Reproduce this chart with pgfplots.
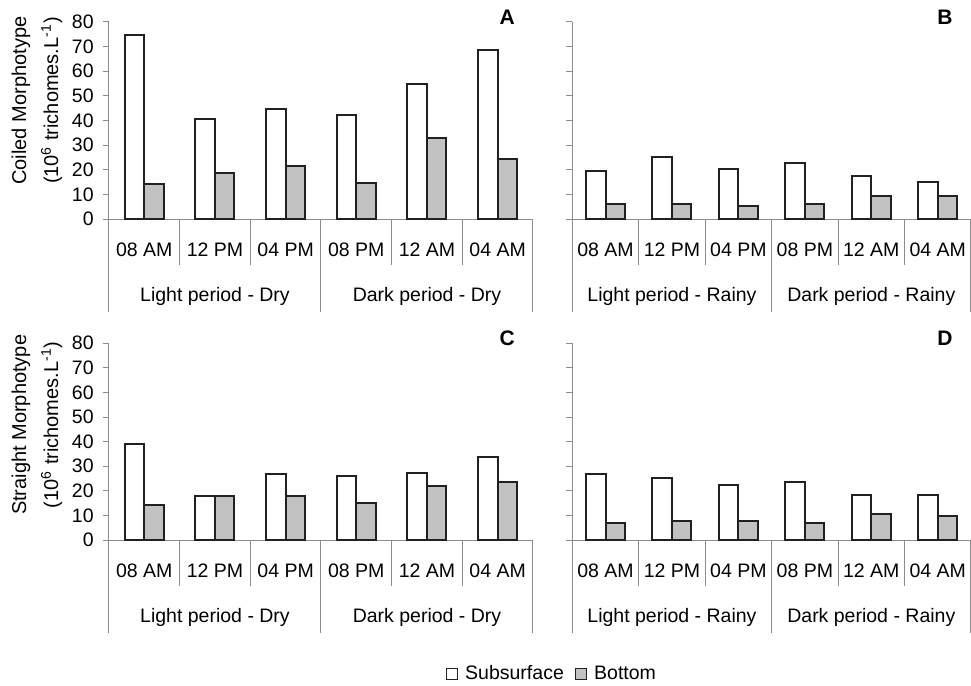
\documentclass[border=0pt]{standalone}
\usepackage{fontspec}
\setmainfont{Liberation Sans}
\usepackage{pgfplots}
\pgfplotsset{compat=1.18}
\usepackage{pgfplotstable}

\definecolor{axiscol}{gray}{0.55}
\definecolor{barline}{gray}{0.13}
\definecolor{botfill}{gray}{0.76}

\pgfplotstableread{
x sub bot
0 74.8 14.3
1 40.7 18.8
2 44.5 21.3
3 42.2 14.7
4 54.8 33.0
5 68.7 24.3
}\tabA
\pgfplotstableread{
x sub bot
0 19.6 6.2
1 25.1 6.2
2 20.4 5.4
3 22.8 6.2
4 17.4 9.5
5 14.9 9.5
}\tabB
\pgfplotstableread{
x sub bot
0 39.2 14.3
1 17.9 17.9
2 26.7 17.9
3 26.0 15.0
4 27.4 22.0
5 33.7 23.6
}\tabC
\pgfplotstableread{
x sub bot
0 26.7 7.1
1 25.2 7.9
2 22.2 7.9
3 23.6 7.1
4 18.2 10.4
5 18.2 9.6
}\tabD

\newcommand{\fs}{\fontsize{9.75}{12}\selectfont}
\newcommand{\fsb}{\fontsize{10.5}{12}\selectfont\bfseries}

\tikzset{seps/.style={draw=axiscol, line width=0.5pt}}

\pgfplotsset{
 panel/.style={
  scale only axis, anchor=south west,
  ymin=0, ymax=80, ytick={0,10,...,80},
  xmin=-0.5, xmax=5.5, xtick={0,...,5},
  xticklabels={08 AM,12 PM,04 PM,08 PM,12 AM,04 AM},
  axis lines=left, axis line style={draw=axiscol, line width=0.5pt, -},
  tick align=outside, major tick length=3pt,
  ytick style={draw=axiscol, line width=0.5pt},
  xtick style={draw=none},
  ybar=0pt, bar width=9.75pt,
  clip=false,
  font=\fs,
  /pgf/number format/assume math mode=true,
  x tick label style={anchor=base, inner sep=0pt, yshift=-15.5pt},
  y tick label style={anchor=east, inner sep=0pt, xshift=-4.5pt},
  every axis y label/.style={rotate=90, anchor=center, align=center,
     font=\fontsize{10}{12}\selectfont},
 },
 sub/.style={fill=white, draw=barline, line width=1pt,
   legend image code/.code={\draw[fill=white, draw=barline, line width=0.65pt] (0pt,-2.75pt) rectangle (5.5pt,2.75pt);}},
 bot/.style={fill=botfill, draw=barline, line width=1pt,
   legend image code/.code={\draw[fill=botfill, draw=barline, line width=0.65pt] (0pt,-2.75pt) rectangle (5.5pt,2.75pt);}},
}

\newcommand{\separators}{%
  \draw[seps] (axis cs:-0.5,0) -- ([yshift=-46.5pt]axis cs:-0.5,0);
  \draw[seps] (axis cs:2.5,0) -- ([yshift=-46.5pt]axis cs:2.5,0);
  \draw[seps] (axis cs:5.5,0) -- ([yshift=-46.5pt]axis cs:5.5,0);
  \draw[seps] (axis cs:0.5,0) -- ([yshift=-23pt]axis cs:0.5,0);
  \draw[seps] (axis cs:1.5,0) -- ([yshift=-23pt]axis cs:1.5,0);
  \draw[seps] (axis cs:3.5,0) -- ([yshift=-23pt]axis cs:3.5,0);
  \draw[seps] (axis cs:4.5,0) -- ([yshift=-23pt]axis cs:4.5,0);
}

\begin{document}
\begin{tikzpicture}
\useasboundingbox (0,0) rectangle (485.5pt,-343pt);

% Panel A
\begin{axis}[panel, at={(54.5pt,-109.5pt)}, width=212pt, height=98.65pt,
  ylabel={Coiled Morphotype\\[4pt](10\textsuperscript{6} trichomes.L\textsuperscript{-1})},
  ylabel style={at={(axis description cs:-0.17,0.60)}}]
\addplot[sub] table[x=x,y=sub] {\tabA};
\addplot[bot] table[x=x,y=bot] {\tabA};
\separators
\node[anchor=base] at (axis cs:1,0) [yshift=-41.3pt] {Light period - Dry};
\node[anchor=base] at (axis cs:4,0) [yshift=-41.3pt] {Dark period - Dry};
\node[font=\fsb] at (rel axis cs:0.939,1.024) {A};
\end{axis}

% Panel B
\begin{axis}[panel, at={(286.15pt,-109.5pt)}, width=199.35pt, height=98.65pt,
  yticklabels={}]
\addplot[sub] table[x=x,y=sub] {\tabB};
\addplot[bot] table[x=x,y=bot] {\tabB};
\separators
\node[anchor=base] at (axis cs:1,0) [yshift=-41.3pt] {Light period - Rainy};
\node[anchor=base] at (axis cs:4,0) [yshift=-41.3pt] {Dark period - Rainy};
\node[font=\fsb] at (rel axis cs:0.935,1.024) {B};
\end{axis}

% Panel C
\begin{axis}[panel, at={(54.5pt,-270pt)}, width=212pt, height=98.4pt,
  ylabel={Straight Morphotype\\[4pt](10\textsuperscript{6} trichomes.L\textsuperscript{-1})},
  ylabel style={at={(axis description cs:-0.17,0.585)}},
  legend style={at={(rel axis cs:1.047,-0.681)}, anchor=center, draw=none,
    fill=none, legend columns=2, font=\fs,
    /tikz/every odd column/.append style={column sep=1.5pt},
    /tikz/every even column/.append style={column sep=3.5pt}},
  legend cell align=left]
\addplot[sub] table[x=x,y=sub] {\tabC};
\addlegendentry{Subsurface}
\addplot[bot] table[x=x,y=bot] {\tabC};
\addlegendentry{Bottom}
\separators
\node[anchor=base] at (axis cs:1,0) [yshift=-41.3pt] {Light period - Dry};
\node[anchor=base] at (axis cs:4,0) [yshift=-41.3pt] {Dark period - Dry};
\node[font=\fsb] at (rel axis cs:0.939,1.027) {C};
\end{axis}

% Panel D
\begin{axis}[panel, at={(286.15pt,-270pt)}, width=199.35pt, height=98.4pt,
  yticklabels={}]
\addplot[sub] table[x=x,y=sub] {\tabD};
\addplot[bot] table[x=x,y=bot] {\tabD};
\separators
\node[anchor=base] at (axis cs:1,0) [yshift=-41.3pt] {Light period - Rainy};
\node[anchor=base] at (axis cs:4,0) [yshift=-41.3pt] {Dark period - Rainy};
\node[font=\fsb] at (rel axis cs:0.935,1.027) {D};
\end{axis}
\end{tikzpicture}
\end{document}
